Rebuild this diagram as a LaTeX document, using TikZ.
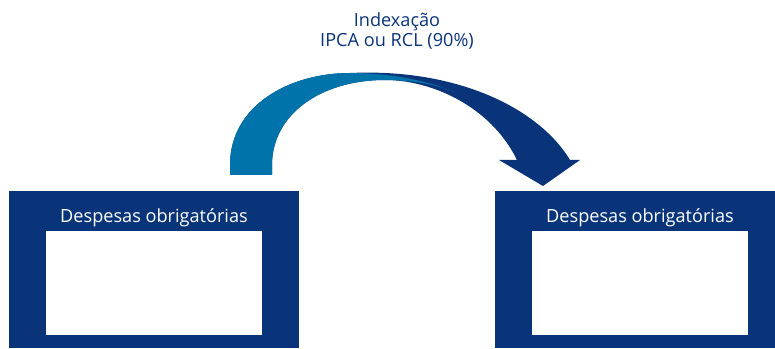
\documentclass[tikz,border=0pt]{standalone}
\usepackage{fontspec}
\setmainfont{Open Sans}
\definecolor{navyblue}{RGB}{10,52,122}
\definecolor{lightblue}{RGB}{0,115,170}

\begin{document}
\begin{tikzpicture}[x=0.75pt, y=-0.75pt,
  outerbox/.style={rectangle, inner sep=0pt, minimum height=117.75pt, fill=navyblue},
  innerbox/.style={rectangle, inner sep=0pt, minimum width=162pt, minimum height=78pt, fill=white},
  boxlabel/.style={anchor=base, text=white, font=\fontsize{13.6}{15}\selectfont}]
  \useasboundingbox (0,0) rectangle (775,349);

  % Left block (Despesas)
  \node (leftbox) [outerbox, minimum width=217.5pt] at (154,269.5) {};
  \node (leftinner) [innerbox] at (154,283) {};
  \node (leftlabel) [boxlabel] at (154,223) {Despesas obrigatórias};

  % Right block (Despesas)
  \node (rightbox) [outerbox, minimum width=210pt] at (635,269.5) {};
  \node (rightinner) [innerbox] at (640,283) {};
  \node (rightlabel) [boxlabel] at (640,223) {Despesas obrigatórias};

  % Label of the curved arrow
  \node (indexlabel) [align=center, text=navyblue, font=\fontsize{13.6}{15}\selectfont, anchor=base] at (397,47) {Indexação\\IPCA ou RCL (90\%)};

  % Curved arrow from left to right block
  \fill [navyblue] (230,175) -- (230,165) .. controls (230,105) and (290,73) .. (350,73)
    .. controls (460,68) and (540,110) .. (570,160) -- (580,160) -- (543,186) -- (499,160) -- (517,160)
    .. controls (490,105) and (430,80) .. (385,80) .. controls (320,80) and (272,115) .. (272,165)
    -- (272,175) -- cycle;
  \fill [lightblue] (230,175) -- (230,165) .. controls (230,105) and (290,73) .. (350,73)
    .. controls (395,73) and (430,82) .. (455,92) .. controls (435,84) and (410,80) .. (385,80)
    .. controls (320,80) and (272,115) .. (272,165) -- (272,175) -- cycle;
\end{tikzpicture}
\end{document}
